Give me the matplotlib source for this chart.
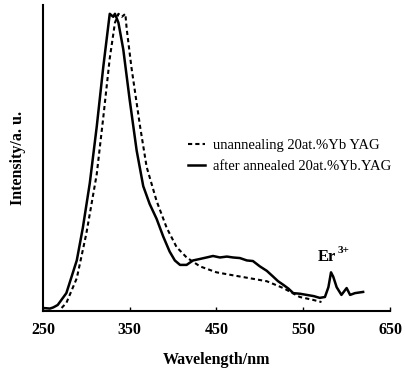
import matplotlib.pyplot as plt

# after annealed (solid)
annealed_nm = [250, 258, 262, 267, 277, 289, 296, 304, 312, 319.5, 327, 331, 333, 337, 342.6, 350,
               358, 365.6, 373, 381, 388.7, 396, 402, 408, 415.6, 423, 431, 438.6, 446, 454, 462,
               469, 477, 485, 492, 500, 508, 515.5, 521, 527, 533, 538.5, 546, 554, 562,
               569, 575, 579, 582, 584.6, 588.5, 594, 600, 604, 609.6, 619]
annealed_int = [0.01, 0.008, 0.012, 0.02, 0.06, 0.17, 0.28, 0.43, 0.62, 0.82, 1.0, 0.99, 1.0, 0.97, 0.88, 0.71,
                0.54, 0.42, 0.36, 0.31, 0.25, 0.2, 0.17, 0.155, 0.155, 0.17, 0.175, 0.18, 0.185, 0.18, 0.183,
                0.18, 0.178, 0.17, 0.168, 0.15, 0.135, 0.115, 0.1, 0.088, 0.075, 0.06, 0.058, 0.054, 0.05,
                0.044, 0.047, 0.08, 0.13, 0.115, 0.08, 0.054, 0.077, 0.054, 0.06, 0.064]

# unannealed (dashed)
unannealed_nm = [271.5, 277, 289, 300, 312, 319.5, 327, 333, 337, 341, 345, 346.5, 352, 362,
                 369.5, 381, 392.6, 404, 415.6, 431, 450, 469, 488.6, 508, 527, 546, 561.6, 571]
unannealed_int = [0.01, 0.027, 0.11, 0.26, 0.46, 0.65, 0.85, 0.97, 1.0, 0.99, 1.0, 0.95, 0.82, 0.62,
                  0.485, 0.37, 0.28, 0.215, 0.18, 0.15, 0.13, 0.12, 0.11, 0.1, 0.077, 0.047, 0.037, 0.03]

labels = ['unannealing 20at.%Yb YAG', 'after annealed 20at.%Yb.YAG']
xticks = [250, 350, 450, 550, 650]

plt.rcParams['font.family'] = ['Liberation Serif', 'DejaVu Serif']

fig = plt.figure(figsize=(4.05, 3.76), dpi=100)
ax = fig.add_axes([0.106, 0.173, 0.857, 0.814])

ax.plot(unannealed_nm, unannealed_int, color='black', lw=1.5, ls=(0, (2, 1.5)), label=labels[0])
ax.plot(annealed_nm, annealed_int, color='black', lw=1.8, label=labels[1])

ax.set_xlim(250, 650)
ax.set_ylim(0, 1.03)
ax.set_xticks(xticks)
ax.set_xticklabels([str(t) for t in xticks], fontweight='bold', fontsize=11.5)
ax.set_yticks([])
ax.tick_params(axis='x', direction='in', length=3, width=1, pad=8)
for s in ['top', 'right']:
    ax.spines[s].set_visible(False)
for s in ['left', 'bottom']:
    ax.spines[s].set_linewidth(1.5)

ax.set_xlabel('Wavelength/nm', fontweight='bold', fontsize=11.5, labelpad=10)
ax.set_ylabel('Intensity/a. u.', fontweight='bold', fontsize=11.5, labelpad=12)

# Er3+ label
ax.text(588, 0.155, 'Er', fontweight='bold', fontsize=12, ha='right', va='bottom')
ax.annotate('3+', (588, 0.155), xytext=(1, 7), textcoords='offset points',
            fontweight='bold', fontsize=8, ha='left', va='bottom')

ax.legend(loc='upper left', bbox_to_anchor=(0.38, 0.605), frameon=False, fontsize=10.5,
          handlelength=1.2, handletextpad=0.5, labelspacing=0.55)

plt.savefig('out.png', dpi=100)
